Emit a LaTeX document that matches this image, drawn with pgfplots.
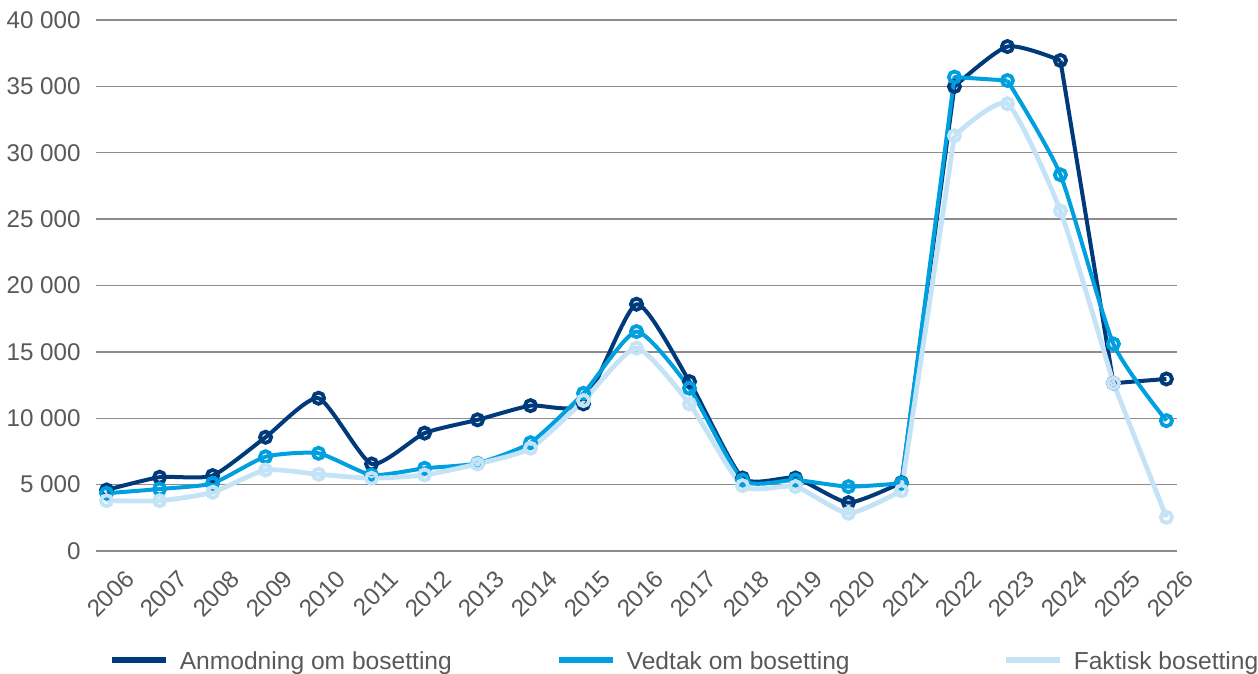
\documentclass[border=0pt]{standalone}
\usepackage{pgfplots}
\pgfplotsset{compat=1.18}
\usepackage{fontspec}
\setmainfont{Liberation Sans}
\definecolor{cDark}{RGB}{0,58,122}
\definecolor{cMid}{RGB}{0,159,223}
\definecolor{cLight}{RGB}{197,227,246}
\definecolor{cGrid}{RGB}{140,140,140}
\definecolor{cText}{RGB}{89,89,89}
\begin{document}
\begin{tikzpicture}
\begin{axis}[
  scale only axis,
  width=540.5pt, height=265.5pt,
  at={(0,0)}, anchor=south west,
  xmin=2005.8, xmax=2026.2,
  ymin=0, ymax=40000,
  scaled y ticks=false,
  xtick={2006,...,2026},
  xticklabels={2006,2007,2008,2009,2010,2011,2012,2013,2014,2015,2016,2017,2018,2019,2020,2021,2022,2023,2024,2025,2026},
  ytick={0,5000,10000,15000,20000,25000,30000,35000,40000},
  yticklabels={0,5 000,10 000,15 000,20 000,25 000,30 000,35 000,40 000},
  ymajorgrids,
  grid style={cGrid, line width=0.7pt},
  axis line style={draw=none},
  major tick style={draw=none},
  tick label style={font=\fontsize{12.1}{13}\selectfont, text=cText, inner sep=0pt},
  yticklabel style={xshift=-7.5pt},
  xticklabel style={xshift=8.5pt, yshift=-8.5pt, rotate=45, anchor=north east},
  legend columns=3,
  legend style={draw=none, fill=none, inner sep=0pt, at={(0.012,-0.2085)}, anchor=west,
    font=\fontsize{12.3}{14}\selectfont, text=cText,
    nodes={inner sep=0pt},
    /tikz/column 1/.style={column sep=5.2pt},
    /tikz/column 2/.style={column sep=8.3pt},
    /tikz/column 3/.style={column sep=5.2pt},
    /tikz/column 4/.style={column sep=8.3pt},
    /tikz/column 5/.style={column sep=5.2pt},
  },
  legend cell align=left,
  legend image code/.code={\draw[#1, line width=3pt, mark=none] (0pt,0.1em) -- (27pt,0.1em);},
  ln/.style={line width=2pt, mark=none, line join=round},
  mk/.style={only marks, mark=o, mark size=2.8pt, mark options={solid, fill=white, line width=1.9pt}},
]
% ---- Anmodning om bosetting
\addplot[cDark, ln, smooth, tension=0.35] coordinates {
(2006,4600) (2007,5560) (2008,5680) (2009,8570) (2010,11510) (2011,6560) (2012,8880)
(2013,9880) (2014,10950) (2015,11080) (2016,18590) (2017,12760) (2018,5500) (2019,5500)
(2020,3640) (2021,5150)};
\addlegendentry{\makebox[180pt][l]{Anmodning om bosetting}}
\addplot[cDark, ln, forget plot] coordinates {(2021,5150) (2022,34990)};
\addplot[cDark, ln, smooth, tension=0.4, forget plot] coordinates {(2022,34990) (2023,38000) (2024,36950)};
\addplot[cDark, ln, forget plot] coordinates {(2024,36950) (2025,12640) (2026,12960)};
\addplot[cDark, mk, forget plot] coordinates {
(2006,4600) (2007,5560) (2008,5680) (2009,8570) (2010,11510) (2011,6560) (2012,8880)
(2013,9880) (2014,10950) (2015,11080) (2016,18590) (2017,12760) (2018,5500) (2019,5500)
(2020,3640) (2021,5150) (2022,34990) (2023,38000) (2024,36950) (2025,12640) (2026,12960)};
% ---- Vedtak om bosetting
\addplot[cMid, ln, smooth, tension=0.35] coordinates {
(2006,4350) (2007,4670) (2008,5100) (2009,7100) (2010,7360) (2011,5730) (2012,6230)
(2013,6610) (2014,8160) (2015,11880) (2016,16530) (2017,12260) (2018,5350) (2019,5350)
(2020,4850) (2021,5100)};
\addlegendentry{\makebox[180pt][l]{Vedtak om bosetting}}
\addplot[cMid, ln, forget plot] coordinates {(2021,5100) (2022,35700) (2023,35440)};
\addplot[cMid, ln, smooth, tension=0.35, forget plot] coordinates {(2023,35440) (2024,28340) (2025,15600) (2026,9820)};
\addplot[cMid, mk, forget plot] coordinates {
(2006,4350) (2007,4670) (2008,5100) (2009,7100) (2010,7360) (2011,5730) (2012,6230)
(2013,6610) (2014,8160) (2015,11880) (2016,16530) (2017,12260) (2018,5350) (2019,5350)
(2020,4850) (2021,5100) (2022,35700) (2023,35440) (2024,28340) (2025,15600) (2026,9820)};
% ---- Faktisk bosetting
\addplot[cLight, ln, line width=2.4pt, smooth, tension=0.35] coordinates {
(2006,3790) (2007,3790) (2008,4420) (2009,6100) (2010,5780) (2011,5480) (2012,5730)
(2013,6560) (2014,7740) (2015,11330) (2016,15280) (2017,11080) (2018,4920) (2019,4850)
(2020,2840) (2021,4540)};
\addlegendentry{\makebox[180pt][l]{Faktisk bosetting}}
\addplot[cLight, ln, line width=2.4pt, forget plot] coordinates {(2021,4540) (2022,31280)};
\addplot[cLight, ln, line width=2.4pt, smooth, tension=0.35, forget plot] coordinates {(2022,31280) (2023,33690) (2024,25620) (2025,12640)};
\addplot[cLight, ln, line width=2.4pt, forget plot] coordinates {(2025,12640) (2026,2540)};
\addplot[cLight, mk, forget plot] coordinates {
(2006,3790) (2007,3790) (2008,4420) (2009,6100) (2010,5780) (2011,5480) (2012,5730)
(2013,6560) (2014,7740) (2015,11330) (2016,15280) (2017,11080) (2018,4920) (2019,4850)
(2020,2840) (2021,4540) (2022,31280) (2023,33690) (2024,25620) (2025,12640) (2026,2540)};
\end{axis}
\pgfresetboundingbox
\path[use as bounding box] (-48pt,-61.5pt) rectangle (581pt,275.5pt);
\end{tikzpicture}
\end{document}
